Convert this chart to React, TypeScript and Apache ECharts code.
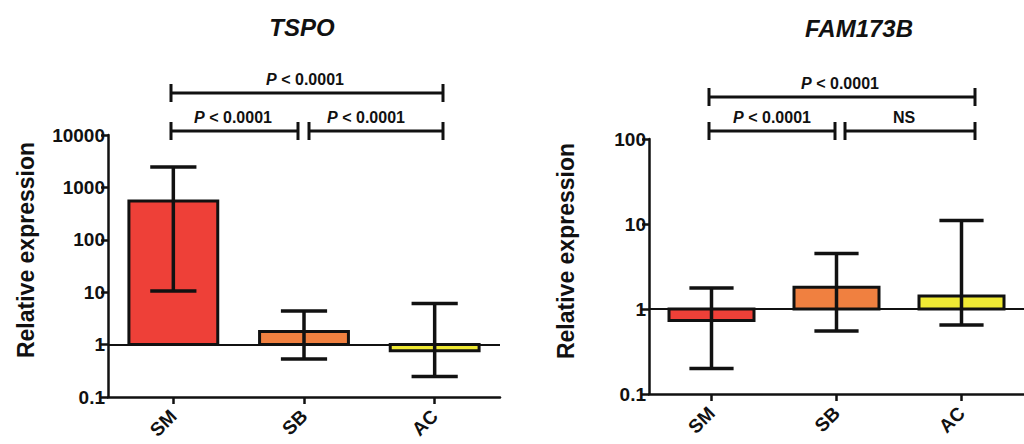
import React, { useEffect, useRef } from "react";
import * as echarts from "echarts";

const categories = ["SM", "SB", "AC"];
const barColors = ["#EE4038", "#F08040", "#F0EA34"];

// TSPO panel: mean, lower error, upper error
const tspoMean = [550, 1.78, 0.76];
const tspoLow = [10.5, 0.53, 0.245];
const tspoHigh = [2450, 4.4, 6.1];

// FAM173B panel
const famMean = [0.73, 1.8, 1.42];
const famLow = [0.2, 0.55, 0.65];
const famHigh = [1.77, 4.5, 11];

const tspoTicks = { min: 0.1, max: 10000 };
const famTicks = { min: 0.1, max: 100 };

const pLabel = "{i|P} < 0.0001";
const nsLabel = "NS";
const yName = "Relative expression";

const FONT = "'Liberation Sans', Arial, sans-serif";

function makeData(mean: number[], low: number[], high: number[]) {
  return mean.map((m, i) => [i, m, low[i], high[i]]);
}

function renderItem(params: any, api: any) {
  const i = api.value(0);
  const v = api.value(1);
  const lo = api.value(2);
  const hi = api.value(3);
  const cs = params.coordSys;
  const band = cs.width / categories.length;
  const bw = band * 0.68;
  const capW = bw * 0.52;
  const base = api.coord([i, 1]);
  const top = api.coord([i, v]);
  const loP = api.coord([i, lo]);
  const hiP = api.coord([i, hi]);
  const cx = base[0];
  const stroke = { stroke: "#111", lineWidth: 3.5 };
  return {
    type: "group",
    children: [
      {
        type: "rect",
        shape: {
          x: cx - bw / 2,
          y: Math.min(base[1], top[1]),
          width: bw,
          height: Math.abs(top[1] - base[1]),
        },
        style: { fill: barColors[i], stroke: "#111", lineWidth: 3 },
      },
      { type: "line", shape: { x1: cx, y1: loP[1], x2: cx, y2: hiP[1] }, style: stroke },
      { type: "line", shape: { x1: cx - capW / 2, y1: hiP[1], x2: cx + capW / 2, y2: hiP[1] }, style: stroke },
      { type: "line", shape: { x1: cx - capW / 2, y1: loP[1], x2: cx + capW / 2, y2: loP[1] }, style: stroke },
    ],
  };
}

function bracket(x1: number, x2: number, y: number, label: string, labelX: number) {
  const ls = { stroke: "#111", lineWidth: 3 };
  return [
    { type: "line", shape: { x1, y1: y, x2, y2: y }, style: ls },
    { type: "line", shape: { x1, y1: y - 9, x2: x1, y2: y + 9 }, style: ls },
    { type: "line", shape: { x1: x2, y1: y - 9, x2, y2: y + 9 }, style: ls },
    {
      type: "text",
      x: labelX,
      y: y - 6,
      style: {
        text: label,
        fontSize: 16,
        fontWeight: "bold",
        fontFamily: FONT,
        fill: "#111",
        align: "center",
        verticalAlign: "bottom",
        rich: { i: { fontStyle: "italic", fontWeight: "bold", fontSize: 16, fontFamily: FONT, fill: "#111" } },
      },
    },
  ];
}

function yTitle(x: number, y: number) {
  return {
    type: "text",
    x,
    y,
    rotation: Math.PI / 2,
    style: {
      text: yName,
      fontSize: 23,
      fontWeight: "bold",
      fontFamily: FONT,
      fill: "#111",
      align: "center",
      verticalAlign: "middle",
    },
  };
}

export default function App() {
  const ref = useRef<HTMLDivElement>(null);
  useEffect(() => {
    document.body.style.margin = "0";
    const chart = echarts.init(ref.current!, undefined, { renderer: "svg" });
    const axisLine = { show: true, lineStyle: { color: "#111", width: 2.5 } };
    const axisTick = { show: true, length: 7, lineStyle: { color: "#111", width: 2.5 } };
    const xAxisBase = {
      type: "category",
      data: categories,
      boundaryGap: true,
      axisLine,
      axisTick: { ...axisTick, alignWithLabel: true },
      axisLabel: { rotate: 45, fontSize: 19, fontWeight: "bold", color: "#111", fontFamily: FONT, margin: 16 },
    };
    const yAxisBase = {
      type: "log",
      logBase: 10,
      axisLine,
      axisTick,
      splitLine: { show: false },
      axisLabel: {
        fontSize: 19,
        fontWeight: "bold",
        color: "#111",
        fontFamily: FONT,
        margin: 3,
        formatter: (v: number) => (v < 1 ? v.toFixed(1) : String(Math.round(v))),
      },
    };
    const refLine = {
      silent: true,
      symbol: "none",
      label: { show: false },
      lineStyle: { color: "#111", width: 2, type: "solid" },
      data: [{ yAxis: 1 }],
    };
    chart.setOption({
      animation: false,
      grid: [
        { left: 108, top: 135, width: 392, height: 262 },
        { left: 649, top: 139, width: 384, height: 255 },
      ],
      xAxis: [
        { ...xAxisBase, gridIndex: 0 },
        { ...xAxisBase, gridIndex: 1 },
      ],
      yAxis: [
        { ...yAxisBase, gridIndex: 0, min: tspoTicks.min, max: tspoTicks.max },
        { ...yAxisBase, gridIndex: 1, min: famTicks.min, max: famTicks.max },
      ],
      series: [
        {
          type: "custom",
          xAxisIndex: 0,
          yAxisIndex: 0,
          data: makeData(tspoMean, tspoLow, tspoHigh),
          encode: { x: 0, y: [1, 2, 3] },
          renderItem,
          clip: false,
          markLine: refLine,
          z: 2,
        },
        {
          type: "custom",
          xAxisIndex: 1,
          yAxisIndex: 1,
          data: makeData(famMean, famLow, famHigh),
          encode: { x: 0, y: [1, 2, 3] },
          renderItem,
          clip: false,
          markLine: refLine,
          z: 2,
        },
      ],
      graphic: [
        {
          type: "text",
          x: 302,
          y: 27,
          style: {
            text: "TSPO",
            fontSize: 24,
            fontWeight: "bold",
            fontStyle: "italic",
            fontFamily: FONT,
            fill: "#111",
            align: "center",
            verticalAlign: "middle",
          },
        },
        {
          type: "text",
          x: 859,
          y: 28,
          style: {
            text: "FAM173B",
            fontSize: 24,
            fontWeight: "bold",
            fontStyle: "italic",
            fontFamily: FONT,
            fill: "#111",
            align: "center",
            verticalAlign: "middle",
          },
        },
        yTitle(26, 250),
        yTitle(566, 251),
        ...bracket(171, 443, 93, pLabel, 305),
        ...bracket(171, 298, 131, pLabel, 233),
        ...bracket(309, 443, 131, pLabel, 366),
        ...bracket(709, 835, 131, pLabel, 772),
        ...bracket(845, 975, 131, nsLabel, 904),
        ...bracket(709, 975, 97, pLabel, 840),
      ],
    });
    return () => chart.dispose();
  }, []);
  return <div ref={ref} style={{ width: 1024, height: 444 }} />;
}
